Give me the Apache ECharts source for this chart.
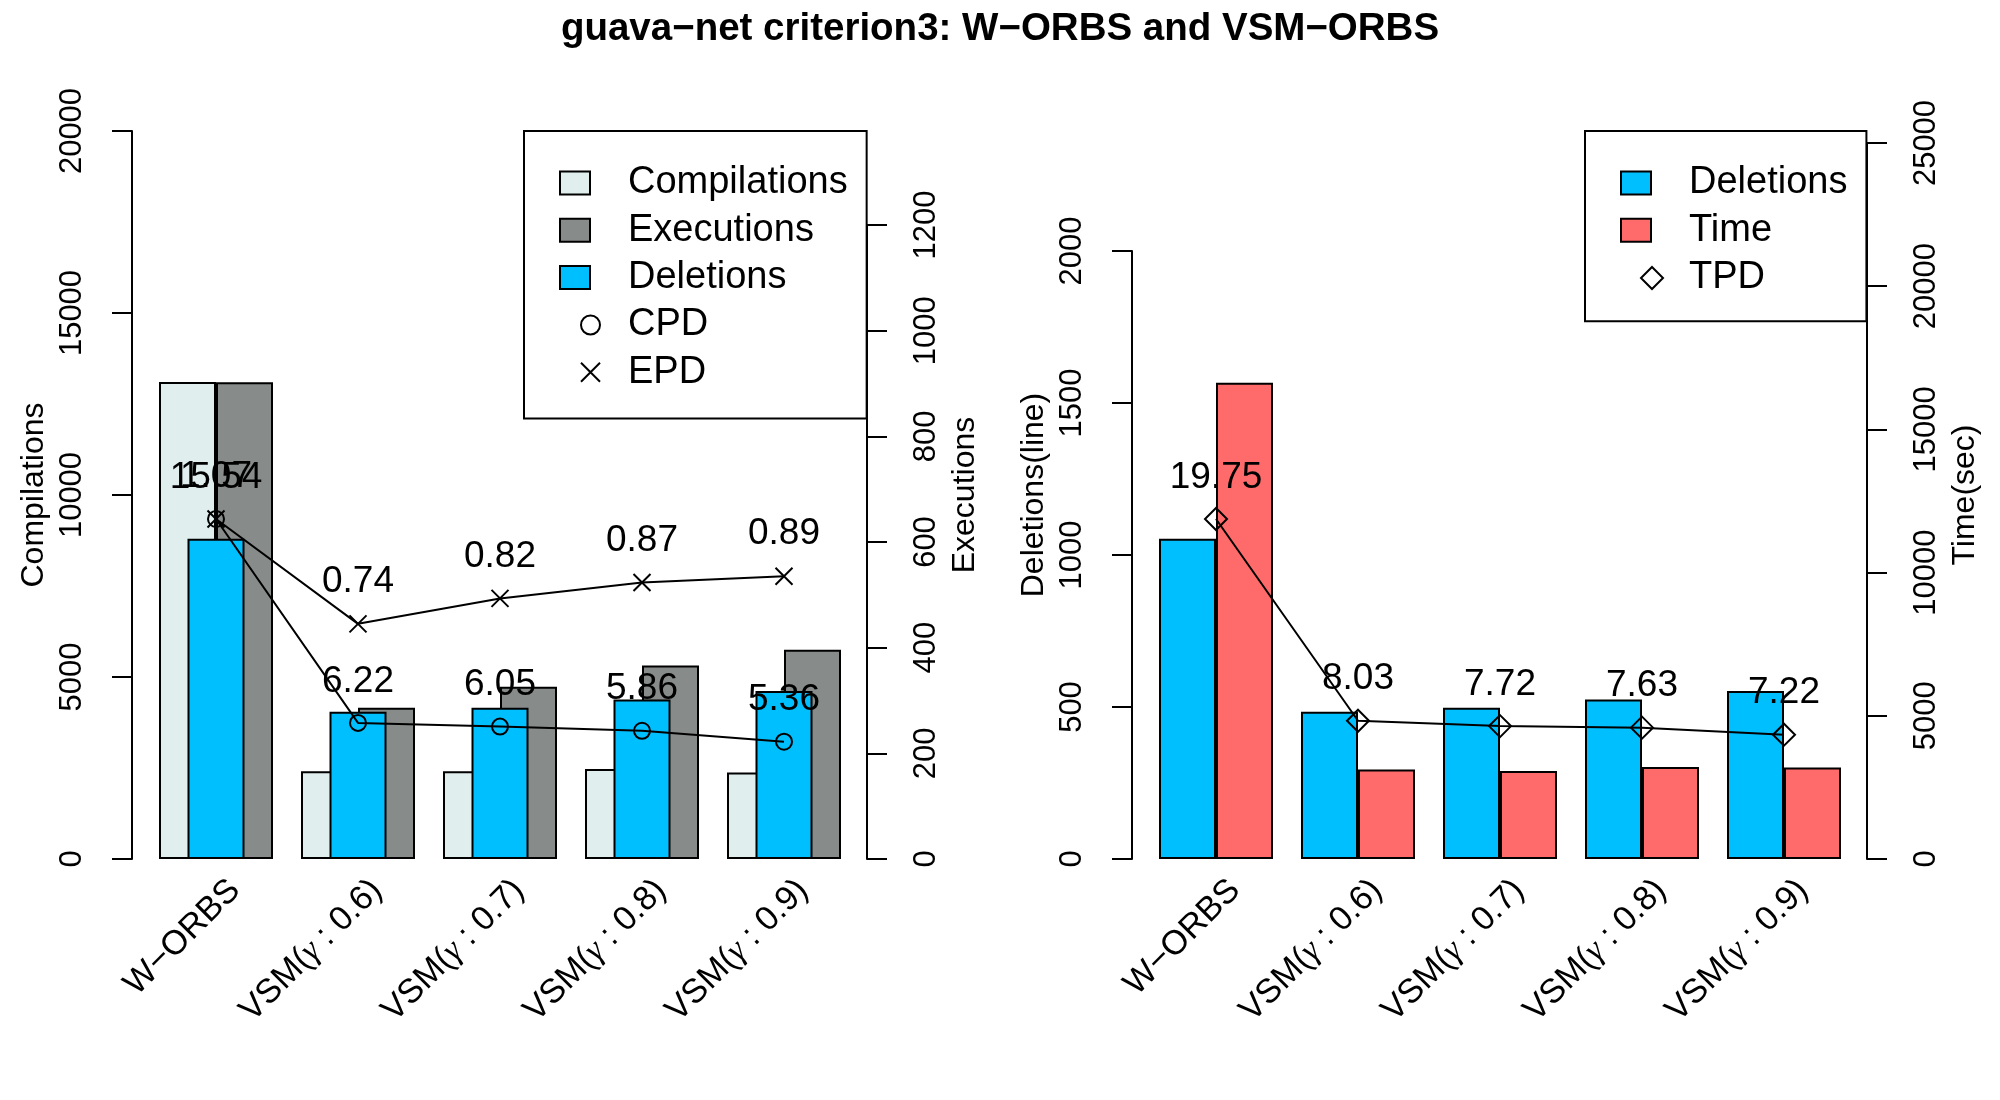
<!DOCTYPE html>
<html>
<head>
<meta charset="utf-8">
<title>guava-net criterion3: W-ORBS and VSM-ORBS</title>
<script src="https://cdn.jsdelivr.net/npm/echarts@6.0.0/dist/echarts.min.js"></script>
<style>
  html, body { margin: 0; padding: 0; background: #fff; }
  #chart { width: 2000px; height: 1100px; }
</style>
</head>
<body>
<div id="chart"></div>
<script>
// data
const categories = ['W\u2212ORBS', 'VSM(\u03b3 : 0.6)', 'VSM(\u03b3 : 0.7)', 'VSM(\u03b3 : 0.8)', 'VSM(\u03b3 : 0.9)'];
const compilations = [13104, 2414, 2414, 2471, 2375];
const executions = [902, 286, 326, 366, 396];
const deletions = [1053, 484, 497, 524, 552];
const timeSec = [16636, 3125, 3076, 3211, 3199];
const cpd = [15.54, 6.22, 6.05, 5.86, 5.36];
const epd = [1.07, 0.74, 0.82, 0.87, 0.89];
const tpd = [19.75, 8.03, 7.72, 7.63, 7.22];

// axis limits (R ylim) and the last labelled tick of each secondary axis
const compMax = 20000, execMax = 1377, delMax = 2393, timeMax = 25436;
const execTicks = 1200, delTicks = 2000, timeTicks = 25000;
const lineScale = 2.141; // ratio lines were drawn with: ylim = c(0, max * k)

const FONT = 'Liberation Sans, Arial, sans-serif';
const top0 = 131, bottom0 = 241, plotH = 1100 - top0 - bottom0;

// grids: one per panel, plus short ones so secondary axis lines stop at their last tick
function grid(px, top, shift) {
  return { left: px + 145 + (shift || 0), width: 710, top: top, bottom: bottom0 };
}
function tickTop(tickMax, axisMax) {
  return Math.round(1100 - bottom0 - plotH * tickMax / axisMax);
}

const black = '#000';
const lineAx = { show: true, lineStyle: { color: black, width: 2 } };
const tickAx = { show: true, length: 20, lineStyle: { color: black, width: 2 } };
const tickLab = { show: true, rotate: 90, fontSize: 31, lineHeight: 31, color: black, margin: 44,
  fontFamily: FONT, formatter: v => String(v) };
const nameStyle = { fontSize: 32, lineHeight: 32, color: black, fontFamily: FONT };
const off = { show: false };

function visibleY(gridIndex, pos, offset, max, interval) {
  return { type: 'value', gridIndex, position: pos, offset, min: 0, max, interval,
    axisLine: lineAx, axisTick: tickAx, axisLabel: tickLab, splitLine: off };
}
function nameY(gridIndex, pos, offset, max, name) {
  return { type: 'value', gridIndex, position: pos, offset, min: 0, max, name,
    nameLocation: 'middle', nameRotate: 90, nameGap: 82, nameTextStyle: nameStyle,
    axisLine: off, axisTick: off, axisLabel: off, splitLine: off };
}
function hiddenY(gridIndex, max) {
  return { type: 'value', gridIndex, min: 0, max, show: false };
}
function hiddenX(gridIndex) {
  return { type: 'category', gridIndex, data: categories, show: false };
}
function labelX(gridIndex) {
  return { type: 'category', gridIndex, data: categories,
    axisLine: off, axisTick: off,
    axisLabel: {
      interval: 0, rotate: 45, margin: 26, fontSize: 34, color: black, fontFamily: FONT,
      formatter: function (v) {
        const i = v.indexOf('\u03b3');
        if (i < 0) return '{n|' + v + '}';
        return '{n|' + v.slice(0, i) + '}{g|\u03b3}{n|' + v.slice(i + 1) + '}';
      },
      rich: {
        n: { fontSize: 34, color: black, fontFamily: FONT },
        g: { fontSize: 34, color: black, fontStyle: 'italic', fontFamily: 'Liberation Serif, serif' }
      }
    }
  };
}

const barBorder = { borderColor: black, borderWidth: 2 };
function bar(name, x, y, data, color, z) {
  return { name, type: 'bar', xAxisIndex: x, yAxisIndex: y, data, barWidth: 57, barGap: '0%',
    itemStyle: Object.assign({ color }, barBorder), z: z || 2 };
}
function ratioLine(name, x, y, data, symbol, size, dist) {
  return { name, type: 'line', xAxisIndex: x, yAxisIndex: y, data, symbol, symbolSize: size,
    itemStyle: { color: 'rgba(0,0,0,0)', borderColor: black, borderWidth: 2 },
    lineStyle: { color: black, width: 2 },
    label: { show: true, position: 'top', distance: dist, fontSize: 37, lineHeight: 37,
      color: black, fontFamily: FONT, formatter: p => p.value.toFixed(2) },
    z: 5 };
}

const crossPath = 'path://M0,0L10,10M10,0L0,10';
const legText = { fontSize: 38, lineHeight: 38, color: black, fontFamily: FONT };

const option = {
  animation: false,
  backgroundColor: '#fff',
  textStyle: { fontFamily: FONT },
  title: {
    text: 'guava\u2212net criterion3: W\u2212ORBS and VSM\u2212ORBS',
    left: 'center', top: 5,
    textStyle: { fontSize: 38.5, lineHeight: 38, fontWeight: 'bold', color: black, fontFamily: FONT }
  },
  grid: [
    grid(0, top0),                                   // 0 left panel
    grid(0, tickTop(execTicks, execMax)),            // 1 executions axis
    grid(0, top0, 19),                               // 2 left category labels
    grid(1000, top0),                                // 3 right panel
    grid(1000, tickTop(delTicks, delMax)),           // 4 deletions axis
    grid(1000, tickTop(timeTicks, timeMax)),         // 5 time axis
    grid(1000, top0, 19)                             // 6 right category labels
  ],
  xAxis: [
    hiddenX(0), hiddenX(0), hiddenX(1), labelX(2),
    hiddenX(3), hiddenX(4), hiddenX(5), labelX(6)
  ],
  yAxis: [
    Object.assign(visibleY(0, 'left', 13, compMax, 5000), {
      name: 'Compilations', nameLocation: 'middle', nameRotate: 90, nameGap: 82, nameTextStyle: nameStyle }), // 0
    nameY(0, 'right', 12, execMax, 'Executions'),                 // 1
    hiddenY(0, delMax),                                           // 2
    hiddenY(0, Math.max(...cpd) * lineScale),                     // 3
    hiddenY(0, Math.max(...epd) * lineScale),                     // 4
    visibleY(1, 'right', 12, execTicks, 200),                     // 5
    hiddenY(2, 1),                                                // 6
    nameY(3, 'left', 13, delMax, 'Deletions(line)'),              // 7
    nameY(3, 'right', 12, timeMax, 'Time(sec)'),                  // 8
    hiddenY(3, Math.max(...tpd) * lineScale),                     // 9
    visibleY(4, 'left', 13, delTicks, 500),                       // 10
    visibleY(5, 'right', 12, timeTicks, 5000),                    // 11
    hiddenY(6, 1)                                                 // 12
  ],
  legend: [
    {
      left: 524, top: 131, orient: 'vertical', selectedMode: false,
      itemWidth: 30, itemHeight: 23, itemGap: 9.25,
      padding: [33, 19, 122, 35], borderColor: black, borderWidth: 2,
      textStyle: Object.assign({ padding: [0, 0, 0, 33] }, legText),
      data: [
        { name: 'Compilations', icon: 'rect', itemStyle: Object.assign({ color: '#E0EEEE' }, barBorder) },
        { name: 'Executions', icon: 'rect', itemStyle: Object.assign({ color: '#878B8A' }, barBorder) },
        { name: 'Deletions', icon: 'rect', itemStyle: Object.assign({ color: '#00BFFF' }, barBorder) }
      ]
    },
    {
      left: 580, top: 306, orient: 'vertical', selectedMode: false,
      itemWidth: 19, itemHeight: 19, itemGap: 9.25, padding: 0,
      textStyle: Object.assign({ padding: [0, 0, 0, 23] }, legText),
      data: [
        { name: 'CPD', icon: 'circle', itemStyle: { color: 'rgba(0,0,0,0)', borderColor: black, borderWidth: 2 } },
        { name: 'EPD', icon: crossPath, itemStyle: { color: 'rgba(0,0,0,0)', borderColor: black, borderWidth: 2 } }
      ]
    },
    {
      left: 1585, top: 131, orient: 'vertical', selectedMode: false,
      itemWidth: 30, itemHeight: 23, itemGap: 9.25,
      padding: [33, 19, 72, 35], borderColor: black, borderWidth: 2,
      textStyle: Object.assign({ padding: [0, 0, 0, 33] }, legText),
      data: [
        { name: 'Deletions', icon: 'rect', itemStyle: Object.assign({ color: '#00BFFF' }, barBorder) },
        { name: 'Time', icon: 'rect', itemStyle: Object.assign({ color: '#FF6A6A' }, barBorder) }
      ]
    },
    {
      left: 1640, top: 259, orient: 'vertical', selectedMode: false,
      itemWidth: 22, itemHeight: 22, itemGap: 9.25, padding: 0,
      textStyle: Object.assign({ padding: [0, 0, 0, 21] }, legText),
      data: [
        { name: 'TPD', icon: 'diamond', itemStyle: { color: 'rgba(0,0,0,0)', borderColor: black, borderWidth: 2 } }
      ]
    }
  ],
  series: [
    bar('Compilations', 0, 0, compilations, '#E0EEEE'),
    bar('Executions', 0, 1, executions, '#878B8A'),
    bar('Deletions', 1, 2, deletions, '#00BFFF', 3),
    ratioLine('CPD', 0, 3, cpd, 'circle', 16, 14),
    ratioLine('EPD', 0, 4, epd, crossPath, 17, 14),
    bar('Deletions', 4, 7, deletions, '#00BFFF'),
    bar('Time', 4, 8, timeSec, '#FF6A6A'),
    ratioLine('TPD', 4, 9, tpd, 'diamond', 22, 11)
  ]
};

const chart = echarts.init(document.getElementById('chart'));
chart.setOption(option);
window.addEventListener('resize', () => chart.resize());
</script>
</body>
</html>
